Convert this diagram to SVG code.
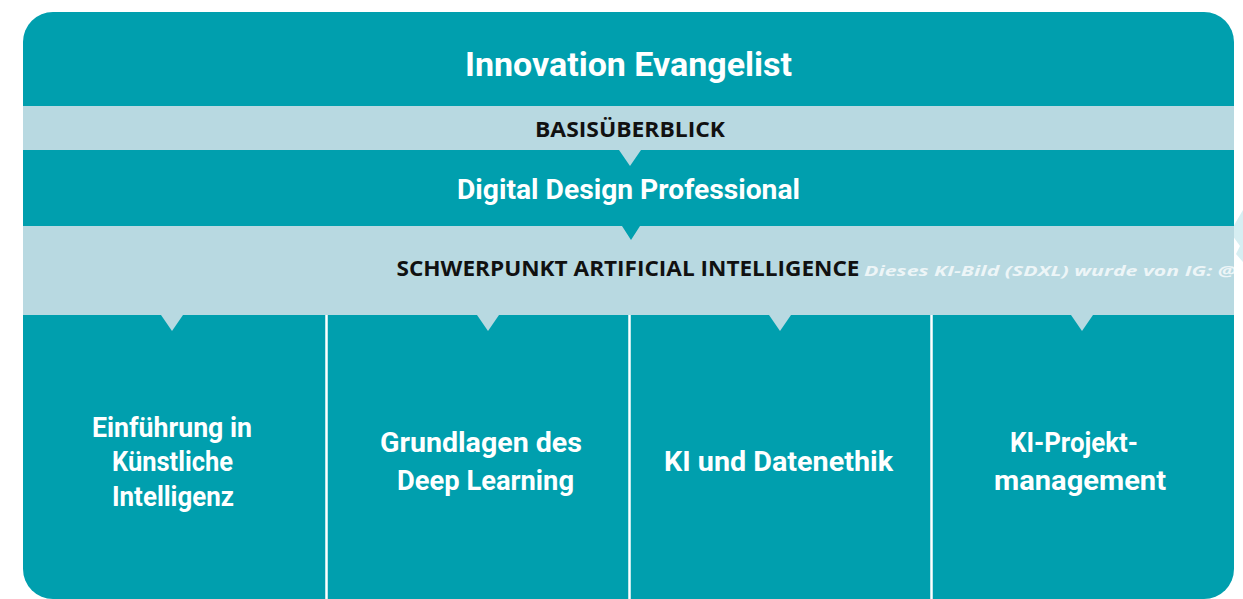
<svg xmlns="http://www.w3.org/2000/svg" width="1243" height="599" viewBox="0 0 1243 599">
  <defs>
    <clipPath id="outer">
      <rect x="23" y="12" width="1211" height="587" rx="30" ry="30"/>
    </clipPath>
    <style>
      .teal { fill: #009FAE; }
      .light { fill: #B8D9E1; }
      .head { font-family: Roboto, "DejaVu Sans", sans-serif; font-weight: 700; fill: #FFFFFF; text-anchor: middle; }
      .sub { font-family: "Open Sans", "Liberation Sans", sans-serif; font-weight: 700; fill: #111111; text-anchor: middle; font-size: 21px; }
      .col { font-family: Roboto, "DejaVu Sans", sans-serif; font-weight: 700; fill: #FFFFFF; text-anchor: middle; font-size: 27px; }
      .divider { stroke: #FFFFFF; stroke-width: 2.5; }
      .wm { font-family: "Open Sans", "Liberation Sans", sans-serif; font-weight: 700; font-style: italic; fill: #FFFFFF; fill-opacity: 0.75; font-size: 15px; }
    </style>
  </defs>
  <rect width="1243" height="599" fill="#FFFFFF"/>
  <polygon points="1243,210 1243,262 1236,254 1240,246 1230,232" fill="#D6EEF2"/>
  <g clip-path="url(#outer)">
    <rect x="23" y="12" width="1211" height="587" class="teal"/>
    <g id="band-basis">
      <path class="light" d="M23,106 H1234 V150 H641 L630,166 L619,150 H23 Z"/>
      <text class="sub" x="630" y="137" textLength="190" lengthAdjust="spacingAndGlyphs">BASISÜBERBLICK</text>
    </g>
    <g id="band-schwerpunkt">
      <path class="light" d="M23,226 H622 L631,240 L640,226 H1234 V315 H1093 L1082,331 L1071,315 H791 L780,331 L769,315 H499 L488,331 L477,315 H183 L172,331 L161,315 H23 Z"/>
      <text class="sub" x="628" y="276" textLength="463" lengthAdjust="spacingAndGlyphs">SCHWERPUNKT ARTIFICIAL INTELLIGENCE</text>
      <text class="wm" x="864" y="276" textLength="372" lengthAdjust="spacingAndGlyphs">Dieses KI-Bild (SDXL) wurde von IG: @</text>
    </g>
    <g id="node-innovation">
      <text class="head" x="628.5" y="76" font-size="34" textLength="327" lengthAdjust="spacingAndGlyphs">Innovation Evangelist</text>
    </g>
    <g id="node-digital">
      <text class="head" x="628.5" y="199" font-size="27" textLength="343" lengthAdjust="spacingAndGlyphs">Digital Design Professional</text>
    </g>
    <g id="connectors">
      <line class="divider" x1="326.5" y1="315" x2="326.5" y2="599"/>
      <line class="divider" x1="629.5" y1="315" x2="629.5" y2="599"/>
      <line class="divider" x1="931.5" y1="315" x2="931.5" y2="599"/>
    </g>
    <g id="node-einfuehrung">
      <text class="col" x="172" y="437" textLength="160" lengthAdjust="spacingAndGlyphs">Einführung in</text>
      <text class="col" x="172.5" y="471" textLength="121" lengthAdjust="spacingAndGlyphs">Künstliche</text>
      <text class="col" x="173" y="506" textLength="122" lengthAdjust="spacingAndGlyphs">Intelligenz</text>
    </g>
    <g id="node-deeplearning">
      <text class="col" x="481" y="452" textLength="202" lengthAdjust="spacingAndGlyphs">Grundlagen des</text>
      <text class="col" x="485.5" y="490" textLength="177" lengthAdjust="spacingAndGlyphs">Deep Learning</text>
    </g>
    <g id="node-datenethik">
      <text class="col" x="778.5" y="471" textLength="229" lengthAdjust="spacingAndGlyphs">KI und Datenethik</text>
    </g>
    <g id="node-projekt">
      <text class="col" x="1074" y="452" textLength="128" lengthAdjust="spacingAndGlyphs">KI-Projekt-</text>
      <text class="col" x="1080" y="490" textLength="172" lengthAdjust="spacingAndGlyphs">management</text>
    </g>
  </g>
</svg>
